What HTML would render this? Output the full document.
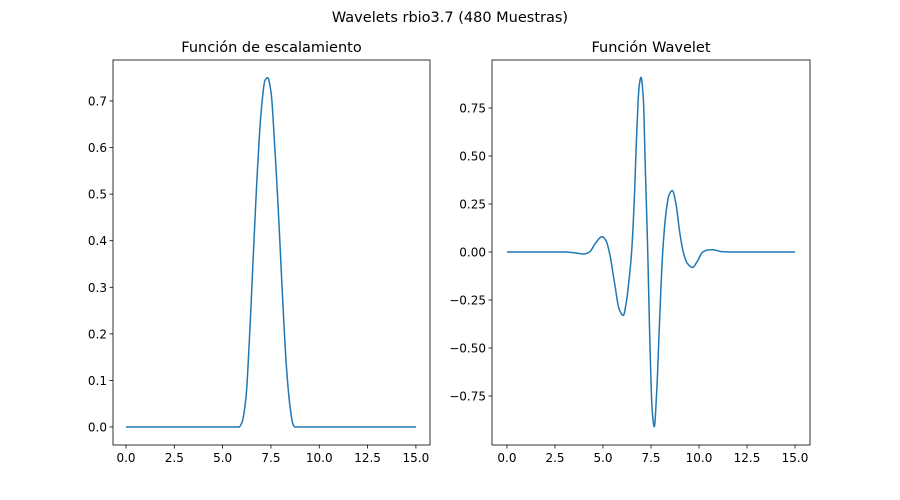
<!DOCTYPE html>
<html><head><meta charset="utf-8">
<style>
body{margin:0;background:#fff;}
svg{display:block;font-family:"DejaVu Sans","Liberation Sans",sans-serif;}
</style></head>
<body>
<svg id="chart" width="900" height="500" viewBox="0 0 900 500" xmlns="http://www.w3.org/2000/svg">
<rect width="900" height="500" fill="#fff"/>
<text x="450" y="22" text-anchor="middle" font-size="14.5">Wavelets rbio3.7 (480 Muestras)</text>
</svg>
<script>
const scalingX = [0, 5.85, 6.0, 6.2, 6.4, 6.6, 6.8, 7.0, 7.2, 7.33, 7.5, 7.7, 7.9, 8.1, 8.3, 8.5, 8.65, 8.75, 15];
const scalingY = [0, 0, 0.01, 0.06, 0.2, 0.38, 0.55, 0.68, 0.745, 0.75, 0.72, 0.6, 0.45, 0.28, 0.13, 0.04, 0.005, 0, 0];
const waveletX = [0, 3.0, 3.5, 4.0, 4.3, 4.6, 4.96, 5.15, 5.33, 5.6, 5.85, 6.06, 6.2, 6.35, 6.49, 6.62, 6.75, 6.88, 6.98, 7.1, 7.2, 7.33, 7.45, 7.56, 7.67, 7.8, 7.95, 8.11, 8.3, 8.45, 8.61, 8.8, 9.0, 9.18, 9.4, 9.67, 9.9, 10.2, 10.45, 10.71, 11.2, 11.8, 15];
const waveletY = [0, 0, -0.004, -0.01, 0.0, 0.045, 0.08, 0.06, 0, -0.16, -0.3, -0.33, -0.27, -0.15, 0, 0.25, 0.6, 0.86, 0.91, 0.8, 0.45, 0, -0.5, -0.82, -0.91, -0.72, -0.35, 0, 0.22, 0.3, 0.32, 0.25, 0.1, 0, -0.06, -0.08, -0.05, 0, 0.01, 0.012, 0.002, 0, 0];
const xTicks = [0, 2.5, 5, 7.5, 10, 12.5, 15];
const xTickLabels = ["0.0", "2.5", "5.0", "7.5", "10.0", "12.5", "15.0"];
const leftYTicks = [0, 0.1, 0.2, 0.3, 0.4, 0.5, 0.6, 0.7];
const leftYTickLabels = ["0.0", "0.1", "0.2", "0.3", "0.4", "0.5", "0.6", "0.7"];
const rightYTicks = [-0.75, -0.5, -0.25, 0, 0.25, 0.5, 0.75];
const rightYTickLabels = ["\u22120.75", "\u22120.50", "\u22120.25", "0.00", "0.25", "0.50", "0.75"];

const NS = "http://www.w3.org/2000/svg";
const svg = document.getElementById("chart");
function mk(tag, attrs, parent) {
  const e = document.createElementNS(NS, tag);
  for (const k in attrs) e.setAttribute(k, attrs[k]);
  (parent || svg).appendChild(e);
  return e;
}
function monotoneSamples(xs, ys) {
  const n = xs.length, d = [], m = new Array(n);
  for (let i = 0; i < n - 1; i++) d.push((ys[i + 1] - ys[i]) / (xs[i + 1] - xs[i]));
  m[0] = d[0]; m[n - 1] = d[n - 2];
  for (let i = 1; i < n - 1; i++) {
    if (d[i - 1] * d[i] <= 0) m[i] = 0;
    else {
      const h0 = xs[i] - xs[i - 1], h1 = xs[i + 1] - xs[i];
      const w1 = 2 * h1 + h0, w2 = h1 + 2 * h0;
      m[i] = (w1 + w2) / (w1 / d[i - 1] + w2 / d[i]);
    }
  }
  const out = [];
  for (let i = 0; i < n - 1; i++) {
    const h = xs[i + 1] - xs[i];
    const steps = Math.max(2, Math.ceil(h / 0.02));
    for (let s = 0; s < steps; s++) {
      const t = s / steps, t2 = t * t, t3 = t2 * t;
      const y = (2 * t3 - 3 * t2 + 1) * ys[i] + (t3 - 2 * t2 + t) * h * m[i] + (-2 * t3 + 3 * t2) * ys[i + 1] + (t3 - t2) * h * m[i + 1];
      out.push([xs[i] + t * h, y]);
    }
  }
  out.push([xs[n - 1], ys[n - 1]]);
  return out;
}
function panel(cfg) {
  const g = mk("g", {});
  
  
  const L = cfg.left, R = cfg.right, T = 60, B = 445;
  const sx = v => L + (v - cfg.xmin) / (cfg.xmax - cfg.xmin) * (R - L);
  const sy = v => B - (v - cfg.ymin) / (cfg.ymax - cfg.ymin) * (B - T);
  const pts = monotoneSamples(cfg.xs, cfg.ys).map(p => sx(p[0]).toFixed(2) + "," + sy(p[1]).toFixed(2));
  const line = mk("polyline", {points: pts.join(" "), fill: "none", stroke: "#1f77b4", "stroke-width": 1.5, "stroke-linejoin": "round"}, g);
  
  
  const frame = mk("rect", {x: L, y: T, width: R - L, height: B - T, fill: "none", stroke: "#000", "stroke-width": 0.8}, g);
  
  
  xTicks.forEach((v, i) => {
    const x = sx(v);
    const tk = mk("line", {x1: x, x2: x, y1: B, y2: B + 3.5, stroke: "#000", "stroke-width": 0.8}, g);
    
    
    const t = mk("text", {x: x, y: B + 17, "text-anchor": "middle", "font-size": 12}, g);
    t.textContent = xTickLabels[i];
    
    
  });
  cfg.yt.forEach((v, i) => {
    const y = sy(v);
    const tk = mk("line", {x1: L - 3.5, x2: L, y1: y, y2: y, stroke: "#000", "stroke-width": 0.8}, g);
    
    
    const t = mk("text", {x: L - 6, y: y + 4.5, "text-anchor": "end", "font-size": 12}, g);
    t.textContent = cfg.ytl[i];
    
    
  });
  const title = mk("text", {x: (L + R) / 2, y: 52, "text-anchor": "middle", "font-size": 14.5}, g);
  title.textContent = cfg.title;
  
  
}
panel({name: "scaling-function-panel", left: 113, right: 430, xmin: -0.672, xmax: 15.73, ymin: -0.0387, ymax: 0.788,
  xs: scalingX, ys: scalingY, yt: leftYTicks, ytl: leftYTickLabels, title: "Función de escalamiento"});
panel({name: "wavelet-function-panel", left: 492, right: 810, xmin: -0.78, xmax: 15.78, ymin: -1.005, ymax: 1.0,
  xs: waveletX, ys: waveletY, yt: rightYTicks, ytl: rightYTickLabels, title: "Función Wavelet"});
</script>
</body></html>
